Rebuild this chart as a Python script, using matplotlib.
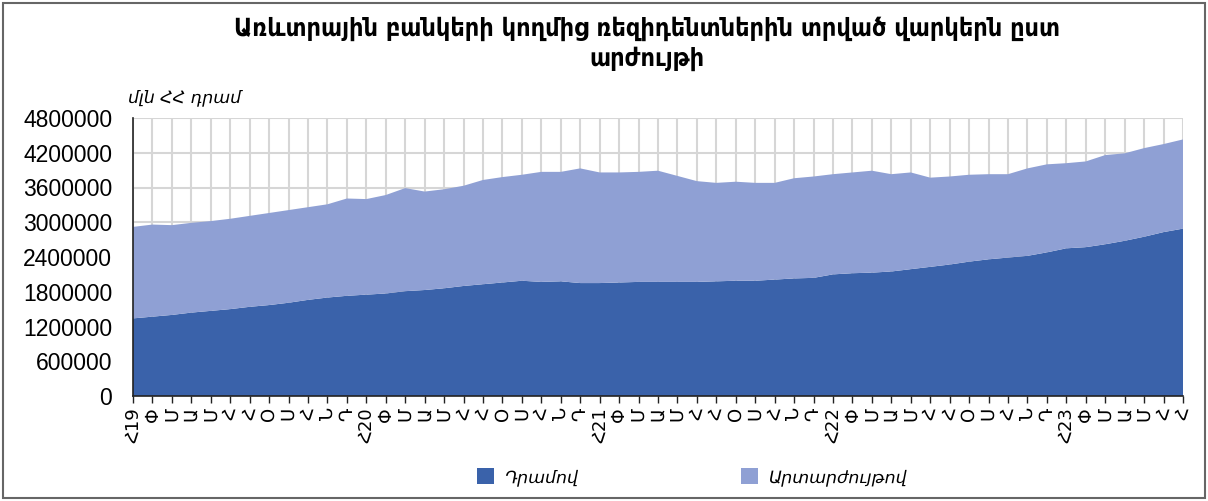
import matplotlib
matplotlib.use("Agg")
import matplotlib.pyplot as plt
from matplotlib.patches import Rectangle, Patch

# ---- data (million AMD), Jan 2019 .. Jul 2023 ----
month_letters = ["Հ", "Փ", "Մ", "Ա", "Մ", "Հ", "Հ", "Օ", "Ս", "Հ", "Ն", "Դ"]
years = ["19", "20", "21", "22", "23"]
n_points = 55

dram = [1340000, 1370000, 1400000, 1440000, 1470000, 1500000, 1540000, 1570000, 1610000, 1660000,
        1700000, 1730000, 1750000, 1770000, 1810000, 1830000, 1860000, 1900000, 1930000, 1960000,
        1990000, 1970000, 1980000, 1950000, 1950000, 1960000, 1970000, 1970000, 1970000, 1970000,
        1980000, 1990000, 1990000, 2010000, 2030000, 2040000, 2100000, 2120000, 2130000, 2150000,
        2190000, 2230000, 2270000, 2320000, 2360000, 2390000, 2420000, 2480000, 2550000, 2570000,
        2620000, 2680000, 2750000, 2830000, 2890000]

fx = [1580000, 1590000, 1550000, 1550000, 1550000, 1560000, 1570000, 1590000, 1600000, 1600000,
      1610000, 1680000, 1650000, 1700000, 1780000, 1700000, 1710000, 1730000, 1800000, 1820000,
      1830000, 1900000, 1890000, 1980000, 1910000, 1900000, 1900000, 1920000, 1830000, 1740000,
      1700000, 1710000, 1690000, 1670000, 1730000, 1750000, 1730000, 1740000, 1760000, 1680000,
      1670000, 1540000, 1520000, 1500000, 1470000, 1440000, 1510000, 1520000, 1470000, 1480000,
      1540000, 1510000, 1530000, 1520000, 1540000]

y_ticks = [0, 600000, 1200000, 1800000, 2400000, 3000000, 3600000, 4200000, 4800000]
series_names = ["Դրամով", "Արտարժույթով"]
title = "Առևտրային բանկերի կողմից ռեզիդենտներին տրված վարկերն ըստ\nարժույթի"
unit_label = "մլն ՀՀ դրամ"

# ---- labels ----
labels = []
for i in range(n_points):
    m = i % 12
    y = years[i // 12]
    labels.append(month_letters[m] + y if m == 0 else month_letters[m])

x = list(range(n_points))

dark = "#3a62aa"
light = "#8fa0d4"

fig = plt.figure(figsize=(12.08, 5.01), dpi=100)
ax = fig.add_axes([133 / 1208, 1 - 396 / 501, 1050 / 1208, 278 / 501])

ax.stackplot(x, dram, fx, colors=[dark, light], labels=series_names, zorder=2, linewidth=0)

ax.set_xlim(0, n_points - 1)
ax.set_ylim(0, 4800000)
ax.set_yticks(y_ticks)
ax.set_yticklabels([str(v) for v in y_ticks], fontsize=16.5, family=["Liberation Sans", "DejaVu Sans"])
ax.set_xticks(x)
ax.set_xticklabels(labels, rotation=90, fontsize=13, family="DejaVu Sans")
ax.tick_params(axis="y", length=0, pad=15)
ax.tick_params(axis="x", length=5, width=1, color="#222222", pad=3)

ax.grid(True, color="#d6d6d6", linewidth=1.5, zorder=0)
ax.set_axisbelow(True)
for s in ["top", "right"]:
    ax.spines[s].set_visible(False)
ax.spines["left"].set_color("#222222")
ax.spines["bottom"].set_color("#222222")
ax.spines["left"].set_linewidth(1.2)
ax.spines["bottom"].set_linewidth(1.2)

fig.text(647 / 1208, 1 - 44 / 501, title, ha="center", va="center", fontsize=18,
         fontweight="bold", family="DejaVu Sans", fontstretch="condensed", linespacing=1.3)
fig.text(128 / 1208, 1 - 97 / 501, unit_label, ha="left", va="center", fontsize=12.5,
         style="italic", family="DejaVu Sans")

handles = [Patch(facecolor=dark, edgecolor="none"), Patch(facecolor=light, edgecolor="none")]
fig.legend(handles, series_names, loc="center", bbox_to_anchor=(692 / 1208, 1 - 477 / 501),
           ncol=2, frameon=False, columnspacing=9.4, handlelength=0.95, handleheight=1.0,
           handletextpad=0.6, prop={"family": "DejaVu Sans", "style": "italic", "size": 12.5})

fig.patches.append(Rectangle((3 / 1208, 3 / 501), 1202 / 1208, 495 / 501, transform=fig.transFigure,
                             fill=False, edgecolor="#666666", linewidth=1.5))

fig.savefig("out.png", dpi=100)
